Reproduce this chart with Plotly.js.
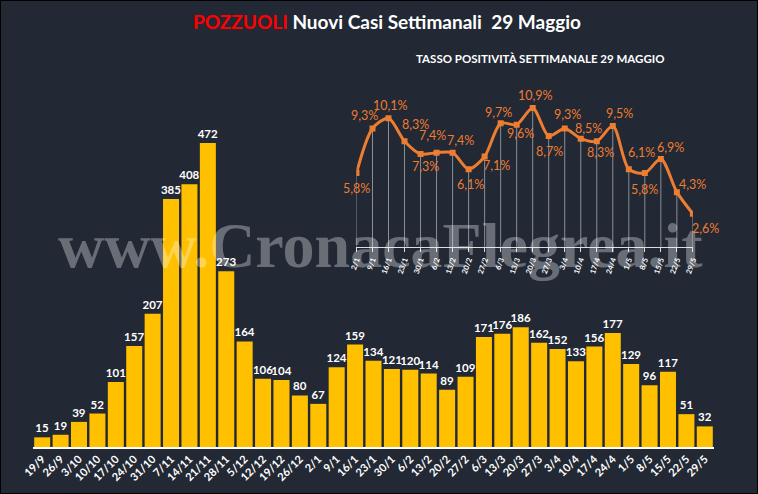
<!DOCTYPE html>
<html><head><meta charset="utf-8">
<script src="https://cdn.plot.ly/plotly-3.0.1.min.js"></script>
<style>html,body{margin:0;padding:0;background:#000;}#c{width:756px;height:492px;border:1px solid #000;}</style>
</head><body><div id="c"></div>
<script>
const weeks = ["19/9","26/9","3/10","10/10","17/10","24/10","31/10","7/11","14/11","21/11","28/11","5/12","12/12","19/12","26/12","2/1","9/1","16/1","23/1","30/1","6/2","13/2","20/2","27/2","6/3","13/3","20/3","27/3","3/4","10/4","17/4","24/4","1/5","8/5","15/5","22/5","29/5"];
const cases = [15,19,39,52,101,157,207,385,408,472,273,164,106,104,80,67,124,159,134,121,120,114,89,109,171,176,186,162,152,133,156,177,129,96,117,51,32];
const rateWeeks = ["2/1","9/1","16/1","23/1","30/1","6/2","13/2","20/2","27/2","6/3","13/3","20/3","27/3","3/4","10/4","17/4","24/4","1/5","8/5","15/5","22/5","29/5"];
const rate = [5.8,9.3,10.1,8.3,7.3,7.4,7.4,6.1,7.1,9.7,9.6,10.9,8.7,9.3,8.5,8.3,9.5,6.1,5.8,6.9,4.3,2.6];
// label offsets in pixels (styling only)
const labelOffsets = [[0,15],[-8,-13],[2,-13],[11,-17],[5,13],[-4,-17],[8,-12],[2,15],[12,9],[-2,-11],[4,9],[3,-13],[1,15],[3,-14],[8,-10],[4,11],[7,-12],[13,-17],[0,16],[10,-12],[16,-8],[13,15]];

const F = "Lato, 'Open Sans', sans-serif";
const ORANGE = '#ED7D31';
const traces = [
  {type:'bar', x:weeks, y:cases, marker:{color:'#FFC000'},
   text:cases.map(String), textposition:'outside', cliponaxis:false, constraintext:'none',
   textfont:{color:'#fff', size:11.5, family:F, weight:'bold'}, hoverinfo:'none'},
  {type:'scatter', mode:'lines+markers', x:rateWeeks, y:rate, xaxis:'x2', yaxis:'y2',
   line:{color:ORANGE, width:3, shape:'spline', smoothing:0.8},
   marker:{symbol:'square', size:6, color:ORANGE},
   error_y:{type:'data', symmetric:false, array:rate.map(()=>0), arrayminus:rate, width:0, thickness:1, color:'#8a8f98'},
   hoverinfo:'none'}
];
const anns = [
  {xref:'paper', yref:'paper', x:0.52, y:1, yanchor:'bottom', xanchor:'center', yshift:25, showarrow:false,
   text:'<b><span style="color:#FF0000">POZZUOLI</span> Nuovi Casi Settimanali  29 Maggio</b>',
   font:{color:'#fff', size:19, family:F}},
  {xref:'paper', yref:'paper', x:0.745, y:1, yanchor:'bottom', xanchor:'center', yshift:-7, showarrow:false,
   text:'<b>TASSO POSITIVITÀ SETTIMANALE 29 MAGGIO</b>',
   font:{color:'#fff', size:11.5, family:F}},
  {xref:'paper', yref:'paper', x:0.51, y:0.52, xanchor:'center', yanchor:'middle', showarrow:false,
   text:'<b>www.CronacaFlegrea.it</b>', font:{color:'rgba(255,255,255,0.32)', size:64, family:'Liberation Serif, serif'}}
];
rate.forEach((v,i)=>{
  anns.push({xref:'x2', yref:'y2', x:rateWeeks[i], y:v, showarrow:false,
    xshift:labelOffsets[i][0], yshift:-labelOffsets[i][1],
    text:v.toFixed(1).replace('.',',')+'%', font:{color:ORANGE, size:12.5, family:F}});
});
const layout = {
  width:756, height:492,
  paper_bgcolor:'#222834', plot_bgcolor:'rgba(0,0,0,0)',
  margin:{l:32, r:43, t:59, b:46},
  showlegend:false, bargap:0.13,
  xaxis:{type:'category', showgrid:false, showline:true, linecolor:'#fff', linewidth:1.5, ticks:'',
         tickangle:-45, tickfont:{color:'#fff', size:11, family:F, weight:'bold'}, zeroline:false},
  yaxis:{range:[0,601], visible:false, fixedrange:true},
  xaxis2:{type:'category', domain:[0.475,0.969], anchor:'y2', range:[0,21], showgrid:false,
          showline:true, linecolor:'#ddd', linewidth:1.5, ticks:'outside', ticklen:4, tickcolor:'#ddd',
          tickangle:-70, tickfont:{color:'#fff', size:7.5, family:F, weight:'bold'}},
  yaxis2:{domain:[0.517,0.912], anchor:'x2', range:[0,12], visible:false},
  annotations:anns
};
Plotly.newPlot('c', traces, layout, {staticPlot:true});
</script></body></html>
